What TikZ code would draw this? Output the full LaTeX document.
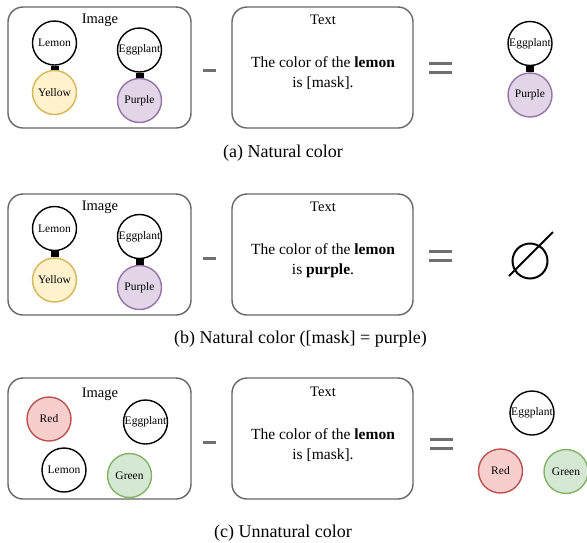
\documentclass[tikz,border=0pt]{standalone}
\usepackage{fontspec}
\setmainfont{Liberation Serif}
\definecolor{boxgray}{HTML}{666666}
\definecolor{opgray}{HTML}{707070}
\definecolor{yfill}{HTML}{FFF2CC}\definecolor{ydraw}{HTML}{D6B656}
\definecolor{pfill}{HTML}{E1D5E7}\definecolor{pdraw}{HTML}{9673A6}
\definecolor{rfill}{HTML}{F8CECC}\definecolor{rdraw}{HTML}{B85450}
\definecolor{gfill}{HTML}{D5E8D4}\definecolor{gdraw}{HTML}{82B366}
\begin{document}
\begin{tikzpicture}[x=1pt,y=-1pt,
  panel/.style={draw=boxgray,line width=1.4pt,rounded corners=15pt,minimum width=183pt,minimum height=121pt,inner sep=0pt},
  tpanel/.style={panel,minimum width=181pt},
  title/.style={font=\fontsize{14.5}{16}\selectfont,inner sep=0pt},
  body/.style={font=\fontsize{15.5}{20}\selectfont,align=center,inner sep=0pt},
  ent/.style={circle,draw=black,line width=1.4pt,minimum size=44pt,inner sep=0pt,font=\fontsize{11.5}{12}\selectfont,fill=white},
  yel/.style={ent,fill=yfill,draw=ydraw},
  pur/.style={ent,fill=pfill,draw=pdraw},
  redc/.style={ent,fill=rfill,draw=rdraw},
  grn/.style={ent,fill=gfill,draw=gdraw},
  link/.style={line width=8pt,black},
  opline/.style={draw=opgray,line width=3pt},
  capt/.style={font=\fontsize{18}{20}\selectfont,inner sep=0pt}]
\useasboundingbox (0,0) rectangle (587,542);

% ---------- Row (a) ----------
\node[panel] (imgA) at (99.5,67.5) {};
\node[title] (imgAt) at (100,20) {Image};
\node[ent] (lemA) at (54.5,43) {Lemon};
\node[yel] (yelA) at (54.5,92.5) {Yellow};
\draw[link] (lemA.south) -- (yelA.north);
\node[ent] (eggA) at (139.5,50) {Eggplant};
\node[pur] (purA) at (139.5,100.5) {Purple};
\draw[link] (eggA.south) -- (purA.north);

\coordinate (mA1) at (203,70); \coordinate (mA2) at (216,70);
\draw[opline] (mA1) -- (mA2);

\node[tpanel] (txtA) at (322.5,67.5) {};
\node[title] (txtAt) at (323,20) {Text};
\node[body] (bodyA) at (323,73) {The color of the \textbf{lemon}\\is [mask].};

\coordinate (eA1) at (429,63); \coordinate (eA2) at (452,63);
\coordinate (eA3) at (429,72.5); \coordinate (eA4) at (452,72.5);
\draw[opline] (eA1) -- (eA2);
\draw[opline] (eA3) -- (eA4);

\node[ent] (eggAr) at (530,43.5) {Eggplant};
\node[pur] (purAr) at (530,95) {Purple};
\draw[link] (eggAr.south) -- (purAr.north);

\node[capt] (capA) at (283,153) {(a) Natural color};

% ---------- Row (b) ----------
\node[panel] (imgB) at (99.5,254.5) {};
\node[title] (imgBt) at (100,207) {Image};
\node[ent] (lemB) at (54.5,228.5) {Lemon};
\node[yel] (yelB) at (54.5,280) {Yellow};
\draw[link] (lemB.south) -- (yelB.north);
\node[ent] (eggB) at (139.5,236.5) {Eggplant};
\node[pur] (purB) at (139.5,287.5) {Purple};
\draw[link] (eggB.south) -- (purB.north);

\coordinate (mB1) at (203,258); \coordinate (mB2) at (216,258);
\draw[opline] (mB1) -- (mB2);

\node[tpanel] (txtB) at (322.5,254.5) {};
\node[title] (txtBt) at (323,207) {Text};
\node[body] (bodyB) at (323,260.5) {The color of the \textbf{lemon}\\is \textbf{purple}.};

\coordinate (eB1) at (429,251.5); \coordinate (eB2) at (452,251.5);
\coordinate (eB3) at (429,260.5); \coordinate (eB4) at (452,260.5);
\draw[opline] (eB1) -- (eB2);
\draw[opline] (eB3) -- (eB4);

\node[circle,draw=black,line width=2pt,minimum size=35pt,inner sep=0pt] (empty) at (530,261) {};
\coordinate (sl1) at (509,276); \coordinate (sl2) at (553,232);
\draw[line width=2pt] (sl1) -- (sl2);

\node[capt] (capB) at (300.5,339) {(b) Natural color ([mask] = purple)};

% ---------- Row (c) ----------
\node[panel] (imgC) at (99.5,438.5) {};
\node[title] (imgCt) at (100,394) {Image};
\node[redc] (redC) at (49,419) {Red};
\node[ent] (eggC) at (145.5,422) {Eggplant};
\node[ent] (lemC) at (64,470) {Lemon};
\node[grn] (grnC) at (129.5,475.5) {Green};

\coordinate (mC1) at (203,442); \coordinate (mC2) at (216,442);
\draw[opline] (mC1) -- (mC2);

\node[tpanel] (txtC) at (322.5,438.5) {};
\node[title] (txtCt) at (323,392) {Text};
\node[body] (bodyC) at (323,445) {The color of the \textbf{lemon}\\is [mask].};

\coordinate (eC1) at (430,439.5); \coordinate (eC2) at (453,439.5);
\coordinate (eC3) at (430,448.5); \coordinate (eC4) at (453,448.5);
\draw[opline] (eC1) -- (eC2);
\draw[opline] (eC3) -- (eC4);

\node[ent] (eggCr) at (532,413) {Eggplant};
\node[redc] (redCr) at (500.5,471) {Red};
\node[grn] (grnCr) at (566,471.5) {Green};

\node[capt] (capC) at (283,533) {(c) Unnatural color};
\end{tikzpicture}
\end{document}
